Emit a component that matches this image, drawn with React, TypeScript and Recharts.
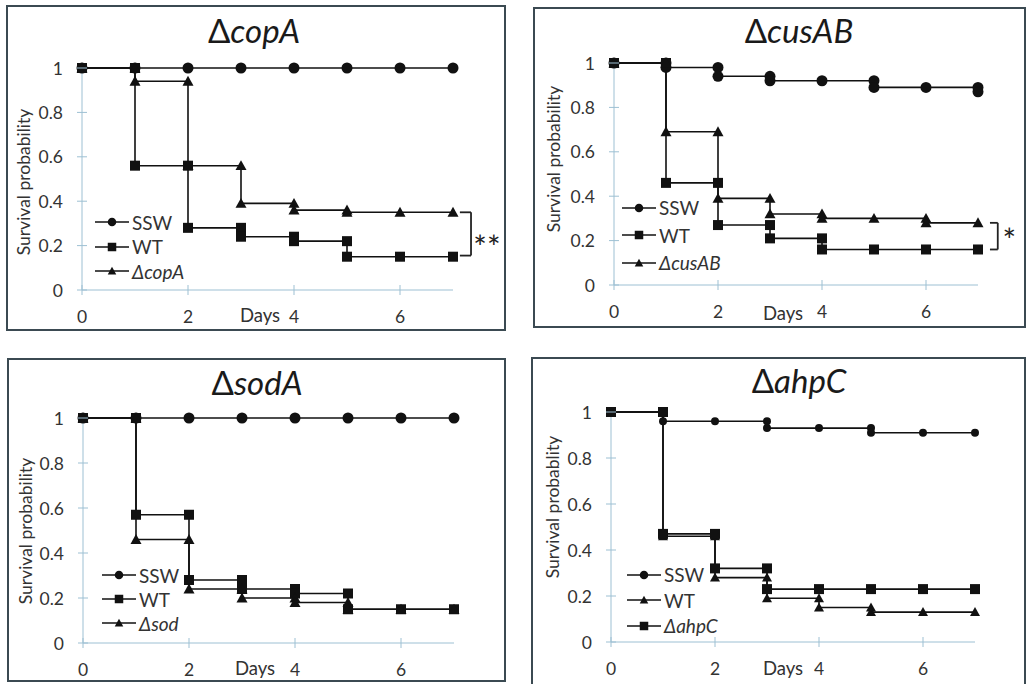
import React from "react";
import { LineChart, Line, XAxis, YAxis, Legend, ReferenceLine, ReferenceDot } from "recharts";

type Pt = [number, number];
type Shape = "circle" | "square" | "triangle";

// Kaplan-Meier points [day, survival], both sides of every drop
const COPA_SSW: Pt[] = [[0, 1], [1, 1], [2, 1], [3, 1], [4, 1], [5, 1], [6, 1], [7, 1]];
const COPA_WT: Pt[] = [[0, 1], [1, 1], [1, 0.56], [2, 0.56], [2, 0.28], [3, 0.28], [3, 0.24], [4, 0.24], [4, 0.22], [5, 0.22], [5, 0.15], [6, 0.15], [7, 0.15]];
const COPA_MUT: Pt[] = [[0, 1], [1, 1], [1, 0.94], [2, 0.94], [2, 0.56], [3, 0.56], [3, 0.39], [4, 0.39], [4, 0.36], [5, 0.36], [5, 0.35], [6, 0.35], [7, 0.35]];

const CUS_SSW: Pt[] = [[0, 1], [1, 1], [1, 0.98], [2, 0.98], [2, 0.94], [3, 0.94], [3, 0.92], [4, 0.92], [5, 0.92], [5, 0.89], [6, 0.89], [7, 0.89], [7, 0.87]];
const CUS_WT: Pt[] = [[0, 1], [1, 1], [1, 0.46], [2, 0.46], [2, 0.27], [3, 0.27], [3, 0.21], [4, 0.21], [4, 0.16], [5, 0.16], [6, 0.16], [7, 0.16]];
const CUS_MUT: Pt[] = [[0, 1], [1, 1], [1, 0.69], [2, 0.69], [2, 0.39], [3, 0.39], [3, 0.32], [4, 0.32], [4, 0.3], [5, 0.3], [6, 0.3], [6, 0.28], [7, 0.28]];

const SOD_SSW: Pt[] = [[0, 1], [1, 1], [2, 1], [3, 1], [4, 1], [5, 1], [6, 1], [7, 1]];
const SOD_WT: Pt[] = [[0, 1], [1, 1], [1, 0.57], [2, 0.57], [2, 0.28], [3, 0.28], [3, 0.24], [4, 0.24], [4, 0.22], [5, 0.22], [5, 0.15], [6, 0.15], [7, 0.15]];
const SOD_MUT: Pt[] = [[0, 1], [1, 1], [1, 0.46], [2, 0.46], [2, 0.24], [3, 0.24], [3, 0.2], [4, 0.2], [4, 0.18], [5, 0.18], [5, 0.15], [6, 0.15], [7, 0.15]];

const AHP_SSW: Pt[] = [[0, 1], [1, 1], [1, 0.96], [2, 0.96], [3, 0.96], [3, 0.93], [4, 0.93], [5, 0.93], [5, 0.91], [6, 0.91], [7, 0.91]];
const AHP_WT: Pt[] = [[0, 1], [1, 1], [1, 0.46], [2, 0.46], [2, 0.28], [3, 0.28], [3, 0.19], [4, 0.19], [4, 0.15], [5, 0.15], [5, 0.13], [6, 0.13], [7, 0.13]];
const AHP_MUT: Pt[] = [[0, 1], [1, 1], [1, 0.47], [2, 0.47], [2, 0.32], [3, 0.32], [3, 0.23], [4, 0.23], [5, 0.23], [6, 0.23], [7, 0.23]];

const DAY_TICKS = [0, 2, 4, 6];
const P_TICKS = [0, 0.2, 0.4, 0.6, 0.8, 1];

const FONT = "Lato, 'Noto Sans', sans-serif";
const INK = "#111";
const AXIS = "#9dc0d3";
const TEXT = "#333";
const Y_W = 60;
const X_H = 35;
const Y_GAP = 19;
const X_GAP = 26;

interface Series {
  name: string;
  italic?: boolean;
  shape: Shape;
  size: number;
  points: Pt[];
}

interface Bracket {
  top: number;
  bottom: number;
  x1: number;
  x2: number;
  mark: string;
  markX: number;
  markY: number;
}

interface PanelCfg {
  gene: string;
  yLabel: string;
  box: { left: number; top: number; width: number; height: number };
  x0: number; // plot left, relative to box
  y1: number; // plot top
  dayPx: number;
  plotH: number;
  title: [number, number];
  yLab: [number, number];
  days: [number, number];
  legend: { left: number; top: number; row: number };
  series: Series[];
  bracket?: Bracket;
}

const PANELS: PanelCfg[] = [
  {
    gene: "copA",
    yLabel: "Survival probability",
    box: { left: 6, top: 5, width: 500, height: 326 },
    x0: 76, y1: 63, dayPx: 53, plotH: 222,
    title: [248, 38], yLab: [17, 177], days: [254, 310],
    legend: { left: 89, top: 205, row: 24.5 },
    series: [
      { name: "SSW", shape: "circle", size: 11, points: COPA_SSW },
      { name: "WT", shape: "square", size: 10, points: COPA_WT },
      { name: "\u0394copA", italic: true, shape: "triangle", size: 11, points: COPA_MUT },
    ],
    bracket: { top: 0.35, bottom: 0.155, x1: 7.13, x2: 7.34, mark: "**", markX: 7.64, markY: 0.19 },
  },
  {
    gene: "cusAB",
    yLabel: "Survival probability",
    box: { left: 533, top: 7, width: 493, height: 321 },
    x0: 81, y1: 56, dayPx: 52, plotH: 222,
    title: [266, 36], yLab: [20, 152], days: [250, 306],
    legend: { left: 89, top: 187, row: 27.5 },
    series: [
      { name: "SSW", shape: "circle", size: 11, points: CUS_SSW },
      { name: "WT", shape: "square", size: 10, points: CUS_WT },
      { name: "\u0394cusAB", italic: true, shape: "triangle", size: 11, points: CUS_MUT },
    ],
    bracket: { top: 0.28, bottom: 0.16, x1: 7.23, x2: 7.38, mark: "*", markX: 7.6, markY: 0.198 },
  },
  {
    gene: "sodA",
    yLabel: "Survival probability",
    box: { left: 7, top: 358, width: 499, height: 324 },
    x0: 76, y1: 60, dayPx: 53, plotH: 225,
    title: [250, 37], yLab: [18, 173], days: [248, 310],
    legend: { left: 95, top: 205, row: 24 },
    series: [
      { name: "SSW", shape: "circle", size: 11, points: SOD_SSW },
      { name: "WT", shape: "square", size: 10, points: SOD_WT },
      { name: "\u0394sod", italic: true, shape: "triangle", size: 11, points: SOD_MUT },
    ],
  },
  {
    gene: "ahpC",
    yLabel: "Survival probablity",
    box: { left: 531, top: 357, width: 495, height: 329 },
    x0: 80, y1: 55, dayPx: 52, plotH: 230,
    title: [268, 36], yLab: [21, 150], days: [252, 311],
    legend: { left: 96, top: 205, row: 25.5 },
    series: [
      { name: "SSW", shape: "circle", size: 8, points: AHP_SSW },
      { name: "WT", shape: "triangle", size: 10, points: AHP_WT },
      { name: "\u0394ahpC", italic: true, shape: "square", size: 10, points: AHP_MUT },
    ],
  },
];

function Marker({ cx, cy, shape, size }: { cx?: number; cy?: number; shape: Shape; size: number }) {
  if (cx == null || cy == null) return null;
  const h = size / 2;
  if (shape === "circle") return <circle cx={cx} cy={cy} r={h} fill={INK} />;
  if (shape === "square") return <rect x={cx - h} y={cy - h} width={size} height={size} fill={INK} />;
  return <path d={`M${cx},${cy - h}L${cx + h},${cy + h * 0.8}L${cx - h},${cy + h * 0.8}Z`} fill={INK} />;
}

const YTick = (props: any) => {
  const { x, y, payload } = props;
  const ax = x + Y_GAP;
  return (
    <g>
      <line x1={ax - 5} x2={ax + 5} y1={y} y2={y} stroke={AXIS} />
      <text x={x} y={y} textAnchor="end" dominantBaseline="central" fill={TEXT} fontSize={17.5} fontFamily={FONT}>
        {payload.value}
      </text>
    </g>
  );
};

const XTick = (props: any) => {
  const { x, y, payload } = props;
  const ay = y - X_GAP;
  return (
    <g>
      <line x1={x} x2={x} y1={ay - 5} y2={ay + 5} stroke={AXIS} />
      <text x={x} y={y} textAnchor="middle" dominantBaseline="central" fill={TEXT} fontSize={17.5} fontFamily={FONT}>
        {payload.value}
      </text>
    </g>
  );
};

function Panel({ cfg }: { cfg: PanelCfg }) {
  const { box, x0, y1, dayPx, plotH } = cfg;
  const plotW = dayPx * 7;
  const margin = {
    left: x0 - Y_W,
    top: y1,
    right: box.width - x0 - plotW,
    bottom: box.height - y1 - plotH - X_H,
  };

  const renderLegend = (p: any) => {
    const items: any[] = p.payload ?? [];
    return (
      <div style={{ fontFamily: FONT, fontSize: 19, color: TEXT }}>
        {items.map((it) => {
          const s = cfg.series.find((d) => d.name === it.value);
          if (!s) return null;
          return (
            <div key={s.name} style={{ display: "flex", alignItems: "center", height: cfg.legend.row, whiteSpace: "nowrap" }}>
              <svg width={34} height={12} style={{ display: "block" }}>
                <line x1={0} x2={34} y1={6} y2={6} stroke={INK} strokeWidth={1.4} />
                <Marker cx={17} cy={6} shape={s.shape} size={8.5} />
              </svg>
              <span style={{ marginLeft: 3, fontStyle: s.italic ? "italic" : "normal" }}>{s.name}</span>
            </div>
          );
        })}
      </div>
    );
  };

  const yLabel = () => (
    <text
      x={cfg.yLab[0]}
      y={cfg.yLab[1]}
      transform={`rotate(-90 ${cfg.yLab[0]} ${cfg.yLab[1]})`}
      textAnchor="middle"
      dominantBaseline="central"
      fill={TEXT}
      fontSize={17.5}
      fontFamily={FONT}
    >
      {cfg.yLabel}
    </text>
  );

  const daysLabel = () => (
    <text x={cfg.days[0]} y={cfg.days[1]} textAnchor="middle" dominantBaseline="central" fill={TEXT} fontSize={18.5} fontFamily={FONT}>
      Days
    </text>
  );

  const b = cfg.bracket;

  return (
    <div
      style={{
        position: "absolute",
        left: box.left,
        top: box.top,
        width: box.width,
        height: box.height,
        boxShadow: "inset 0 0 0 2px #3b4a52",
        background: "#fff",
      }}
    >
      <LineChart width={box.width} height={box.height} margin={margin}>
        <XAxis
          type="number"
          dataKey="day"
          domain={[0, 7]}
          ticks={DAY_TICKS}
          height={X_H}
          tickLine={false}
          tickSize={0}
          tickMargin={X_GAP}
          axisLine={{ stroke: AXIS }}
          tick={<XTick />}
          label={daysLabel}
        />
        <YAxis
          type="number"
          domain={[0, 1]}
          ticks={P_TICKS}
          width={Y_W}
          tickLine={false}
          tickSize={0}
          tickMargin={Y_GAP}
          axisLine={{ stroke: AXIS }}
          tick={<YTick />}
          label={yLabel}
        />
        <Legend
          layout="vertical"
          align="center"
          verticalAlign="middle"
          content={renderLegend}
          wrapperStyle={{ left: cfg.legend.left, top: cfg.legend.top, width: "auto", height: "auto" }}
        />
        {cfg.series.map((s) => (
          <Line
            key={s.name}
            name={s.name}
            data={s.points.map(([day, p]) => ({ day, p }))}
            dataKey="p"
            type="linear"
            stroke={INK}
            strokeWidth={1.6}
            isAnimationActive={false}
            activeDot={false}
            dot={(dp: any) => <Marker key={`${s.name}-${dp.index}`} cx={dp.cx} cy={dp.cy} shape={s.shape} size={s.size} />}
          />
        ))}
        {b && (
          <ReferenceLine segment={[{ x: b.x1, y: b.top }, { x: b.x2, y: b.top }]} ifOverflow="visible" stroke="#222" strokeWidth={1.8} />
        )}
        {b && (
          <ReferenceLine segment={[{ x: b.x2, y: b.top }, { x: b.x2, y: b.bottom }]} ifOverflow="visible" stroke="#222" strokeWidth={1.8} />
        )}
        {b && (
          <ReferenceLine segment={[{ x: b.x1, y: b.bottom }, { x: b.x2, y: b.bottom }]} ifOverflow="visible" stroke="#222" strokeWidth={1.8} />
        )}
        {b && (
          <ReferenceDot
            x={b.markX}
            y={b.markY}
            r={0}
            ifOverflow="visible"
            stroke="none"
            fill="none"
            label={{ value: b.mark, position: "center", fontSize: 32, fill: "#222", fontFamily: FONT }}
          />
        )}
      </LineChart>
      <svg width={box.width} height={50} style={{ position: "absolute", left: 0, top: 0, pointerEvents: "none" }}>
        <text x={cfg.title[0]} y={cfg.title[1]} textAnchor="middle" fontSize={33} fontFamily={FONT} fill="#1a1a1a">
          <tspan>{"\u0394"}</tspan>
          <tspan fontStyle="italic">{cfg.gene}</tspan>
        </text>
      </svg>
    </div>
  );
}

export default function App() {
  return (
    <div style={{ position: "absolute", left: 0, top: 0, width: 1027, height: 684, overflow: "hidden", background: "#fff" }}>
      {PANELS.map((cfg) => (
        <Panel key={cfg.gene} cfg={cfg} />
      ))}
    </div>
  );
}
